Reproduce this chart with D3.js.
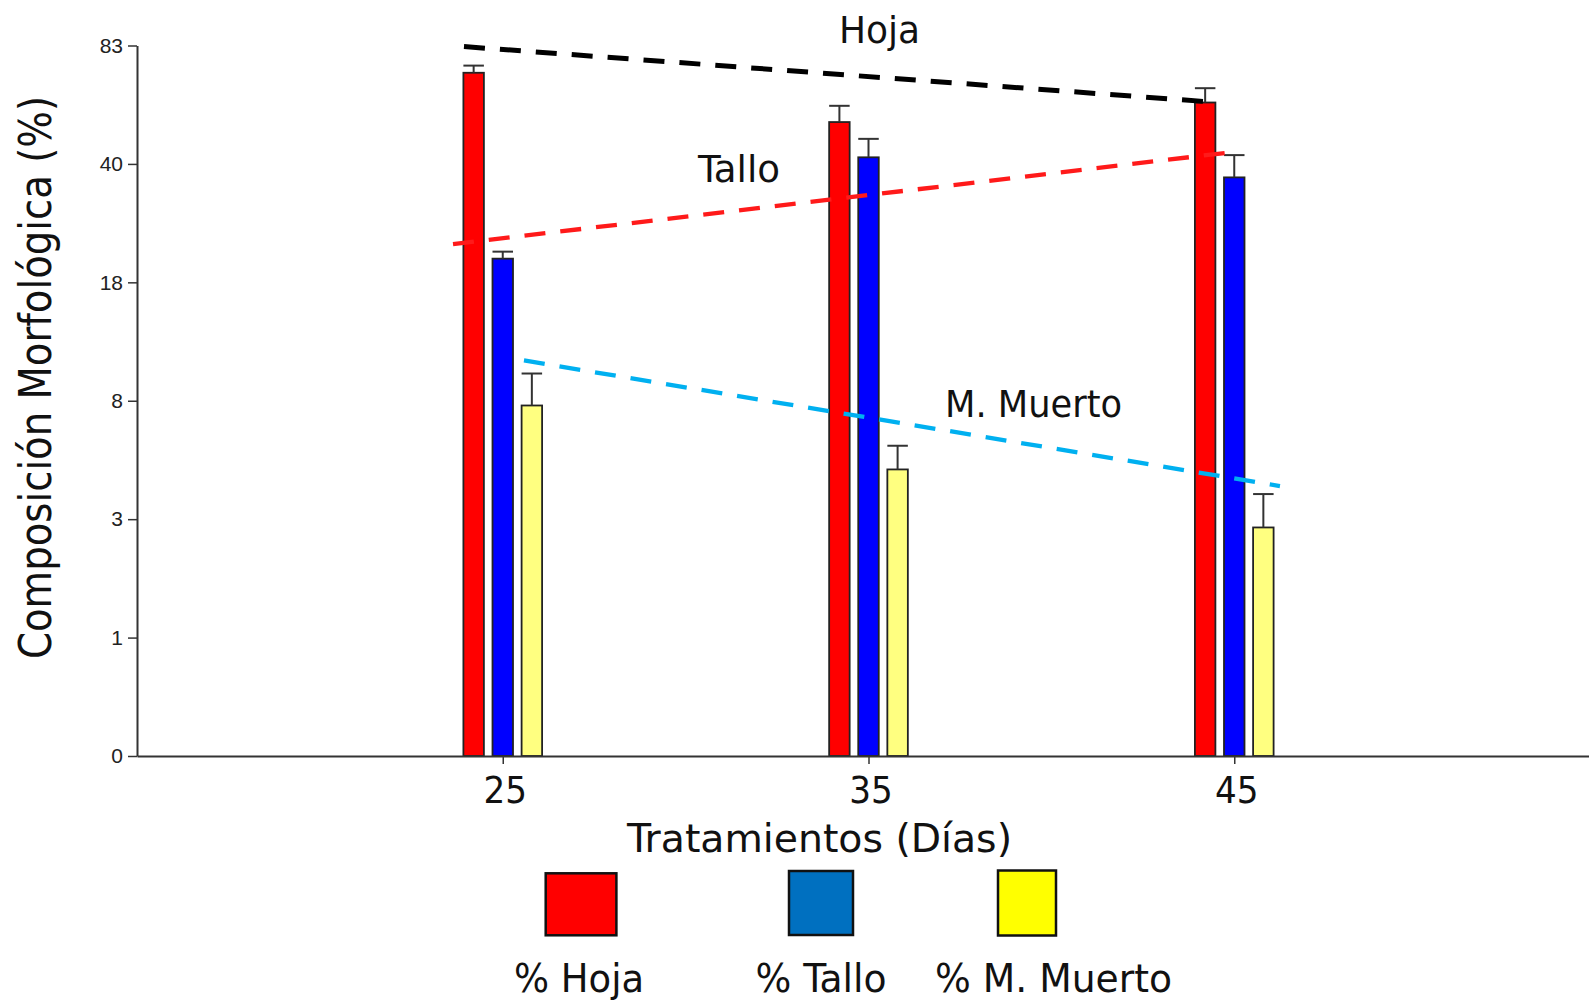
<!DOCTYPE html>
<html>
<head>
<meta charset="utf-8">
<script src="https://cdn.jsdelivr.net/npm/d3@7/dist/d3.min.js"></script>
<style>
  html, body { margin: 0; padding: 0; background: #fff; }
  svg { display: block; }
  .lbl { font-family: "DejaVu Sans Condensed", "DejaVu Sans", sans-serif; fill: #111; }
</style>
</head>
<body>
<svg id="chart" width="1589" height="1003"></svg>
<script>
// ---------------- data ----------------
const days = [25, 35, 45];
const series = ["% Hoja", "% Tallo", "% M. Muerto"];
const hoja   = [73.1, 55.2, 62.3];
const tallo  = [22.4, 42.4, 37.5];
const muerto = [7.8, 5.1, 2.86];
const hojaErr   = [2.6, 5.9, 5.2];
const talloErr  = [1.3, 6.7, 5.7];
const muertoErr = [2.5, 1.0, 1.2];
const yTickValues = [0, 1, 3, 8, 18, 40, 83];
// trend lines: [day, value] end points
const hojaTrend   = [[23.94, 82.6], [44.36, 62.5]];
const talloTrend  = [[23.64, 25.1], [45.02, 44.4]];
const muertoTrend = [[25.58, 11.4], [46.25, 4.4]];
const trendNames = ["Hoja", "Tallo", "M. Muerto"];

// ---------------- layout ----------------
const svg = d3.select("#chart");
const yBottom = 756, yTop = 45.5;
const xLeft = 137;
const barW = 20.5, barStep = 29.1;
const barFill = ["#ff0000", "#0000ff", "#ffff80"];
const legendFill = ["#ff0000", "#0070c0", "#ffff00"];
const trendColor = ["#000000", "#ff1a1a", "#00b0f0"];

const x = d3.scaleLinear().domain([15, 55]).range([xLeft, xLeft + 40 * 36.575]);
const y = d3.scaleLinear()
  .domain(yTickValues)
  .range(yTickValues.map((d, i) => yBottom - i * (yBottom - yTop) / (yTickValues.length - 1)));

// ---------------- bars ----------------
const values = [hoja, tallo, muerto];
const errs = [hojaErr, talloErr, muertoErr];
const barData = [];
values.forEach((vals, s) => vals.forEach((v, i) => barData.push({ s, day: days[i], v, e: errs[s][i] })));

const gBars = svg.append("g");
gBars.selectAll("rect.bar").data(barData).join("rect")
  .attr("class", "bar")
  .attr("x", d => x(d.day) + (d.s - 1) * barStep - barW / 2)
  .attr("y", d => y(d.v))
  .attr("width", barW)
  .attr("height", d => y(0) - y(d.v))
  .attr("fill", d => barFill[d.s])
  .attr("stroke", "#222")
  .attr("stroke-width", 1.8);

// error bars
const gErr = svg.append("g").attr("stroke", "#333").attr("stroke-width", 2);
gErr.selectAll("line.ev").data(barData).join("line")
  .attr("x1", d => x(d.day) + (d.s - 1) * barStep)
  .attr("x2", d => x(d.day) + (d.s - 1) * barStep)
  .attr("y1", d => y(d.v))
  .attr("y2", d => y(d.v + d.e));
gErr.selectAll("line.ec").data(barData).join("line")
  .attr("x1", d => x(d.day) + (d.s - 1) * barStep - barW / 2)
  .attr("x2", d => x(d.day) + (d.s - 1) * barStep + barW / 2)
  .attr("y1", d => y(d.v + d.e))
  .attr("y2", d => y(d.v + d.e));

// ---------------- axes ----------------
const yAxis = d3.axisLeft(y).tickValues(yTickValues).tickSize(9).tickSizeOuter(0).tickPadding(5).tickFormat(d3.format("d"));
const gy = svg.append("g").attr("transform", `translate(${xLeft},0)`).call(yAxis);
gy.select(".domain").attr("stroke", "#333").attr("stroke-width", 2);
gy.selectAll(".tick line").attr("stroke", "#333").attr("stroke-width", 1.5);
gy.selectAll(".tick text").attr("font-family", "Liberation Sans, Arial, sans-serif").attr("font-size", 21).attr("fill", "#222");

const xAxis = d3.axisBottom(x).tickValues(days).tickSize(8).tickSizeOuter(0).tickFormat(d3.format("d"));
const gx = svg.append("g").attr("transform", `translate(0,${yBottom})`).call(xAxis);
gx.select(".domain").attr("stroke", "#333").attr("stroke-width", 2);
gx.selectAll(".tick line").attr("stroke", "#333").attr("stroke-width", 1.5);
gx.selectAll(".tick text").attr("class", "lbl").attr("font-size", 38).attr("y", 47).attr("dy", 0).attr("dx", 2);

// ---------------- trend lines ----------------
const trends = [hojaTrend, talloTrend, muertoTrend];
const line = d3.line().x(d => x(d[0])).y(d => y(d[1]));
svg.append("g").selectAll("path").data(trends).join("path")
  .attr("d", line)
  .attr("fill", "none")
  .attr("stroke", (d, i) => trendColor[i])
  .attr("stroke-width", (d, i) => i === 0 ? 5 : 4.3)
  .attr("stroke-dasharray", "21 15");

// trend labels
const trendLabelPos = [[879.5, 43, 81], [739, 181.7, 82], [1033.5, 417, 177]];
svg.append("g").selectAll("text").data(trendNames).join("text")
  .attr("class", "lbl")
  .attr("x", (d, i) => trendLabelPos[i][0])
  .attr("y", (d, i) => trendLabelPos[i][1])
  .attr("text-anchor", "middle")
  .attr("font-size", 38)
  .attr("textLength", (d, i) => trendLabelPos[i][2])
  .attr("lengthAdjust", "spacingAndGlyphs")
  .text(d => d);

// axis titles
svg.append("text").attr("class", "lbl")
  .attr("x", 819.5).attr("y", 851.5)
  .attr("text-anchor", "middle").attr("font-size", 39)
  .attr("textLength", 385).attr("lengthAdjust", "spacingAndGlyphs")
  .text("Tratamientos (Días)");

svg.append("text").attr("class", "lbl")
  .attr("transform", "translate(51,377.5) rotate(-90)")
  .attr("text-anchor", "middle").attr("font-size", 44)
  .attr("textLength", 563).attr("lengthAdjust", "spacingAndGlyphs")
  .text("Composición Morfológica (%)");

// ---------------- legend ----------------
const legendBoxes = [[545.7, 873.3, 70.7, 62], [789, 871, 64, 64], [998, 870.5, 58, 65]];
const legendText = [[579, 130], [821, 131], [1053.5, 237]];
const gl = svg.append("g");
gl.selectAll("rect").data(series).join("rect")
  .attr("x", (d, i) => legendBoxes[i][0])
  .attr("y", (d, i) => legendBoxes[i][1])
  .attr("width", (d, i) => legendBoxes[i][2])
  .attr("height", (d, i) => legendBoxes[i][3])
  .attr("fill", (d, i) => legendFill[i])
  .attr("stroke", "#111").attr("stroke-width", 2.5);
gl.selectAll("text").data(series).join("text")
  .attr("class", "lbl")
  .attr("x", (d, i) => legendText[i][0])
  .attr("y", 991.5)
  .attr("text-anchor", "middle").attr("font-size", 39)
  .attr("textLength", (d, i) => legendText[i][1])
  .attr("lengthAdjust", "spacingAndGlyphs")
  .text(d => d);
</script>
</body>
</html>
